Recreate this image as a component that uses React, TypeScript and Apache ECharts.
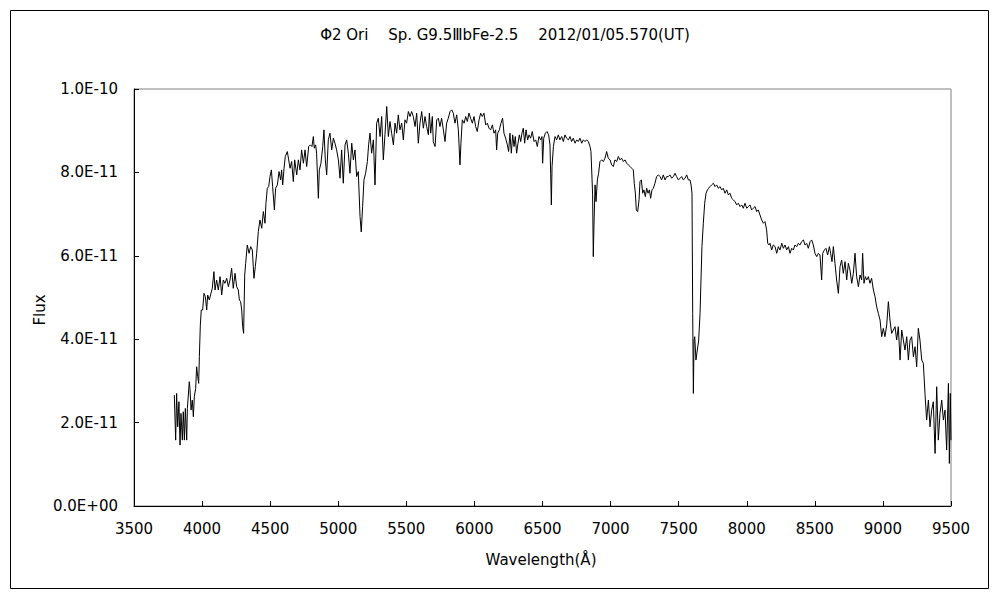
import React, { useEffect, useRef } from "react";
import * as echarts from "echarts";

// Spectrum of Φ2 Ori: [wavelength (Å), flux in units of 1e-11]
const blueSpectrum: [number, number][] = [
  [3796, 2.66], [3806, 1.58], [3813, 2.7], [3821, 1.9], [3830, 2.5], [3838, 1.46], [3845, 2.22], [3855, 1.58],
  [3862, 2.26], [3870, 1.58], [3877, 2.34], [3887, 1.58], [3892, 2.34], [3906, 2.98], [3911, 2.82], [3919, 2.3],
  [3928, 2.54], [3936, 2.14], [3943, 2.62], [3953, 2.82], [3960, 3.34], [3968, 3.1], [3975, 2.94], [3980, 3.58],
  [3987, 4.34], [3994, 4.7], [4004, 4.7], [4014, 5.1], [4024, 5.02], [4034, 4.7], [4041, 5.06], [4053, 4.94],
  [4065, 5.1], [4075, 5.22], [4087, 5.62], [4095, 5.18], [4107, 5.42], [4119, 5.18], [4132, 5.5], [4144, 5.06],
  [4156, 5.42], [4168, 5.34], [4181, 5.46], [4193, 5.26], [4205, 5.42], [4217, 5.7], [4229, 5.22], [4242, 5.58],
  [4254, 5.26], [4266, 5.18], [4274, 4.94], [4283, 4.9], [4291, 4.7], [4298, 4.3], [4305, 4.14], [4313, 5.54],
  [4320, 5.82], [4332, 6.26], [4345, 6.06], [4357, 6.22], [4369, 6.14], [4381, 5.46], [4391, 5.74], [4401, 6.06],
  [4413, 6.58], [4425, 6.86], [4438, 6.66], [4450, 7.06], [4462, 6.78], [4469, 7.26], [4479, 7.62], [4489, 7.66],
  [4499, 7.9], [4509, 8.06], [4518, 7.66], [4531, 7.1], [4540, 7.62], [4553, 7.7], [4565, 8.02], [4577, 7.82],
  [4584, 8.06], [4592, 7.7], [4602, 8.1], [4611, 8.38], [4626, 8.5], [4636, 8.3], [4646, 8.1], [4658, 8.26],
  [4670, 7.78], [4680, 8.3], [4695, 7.94], [4707, 8.3], [4719, 8.06], [4731, 8.54], [4744, 8.22], [4756, 8.54],
  [4768, 8.14], [4783, 8.62], [4795, 8.66], [4807, 8.62], [4817, 8.86], [4824, 8.58], [4834, 8.66], [4841, 8.46],
  [4854, 7.38], [4861, 8.06], [4873, 8.22], [4886, 8.62], [4895, 9.02], [4905, 8.3], [4915, 7.94], [4927, 8.78],
  [4939, 8.94], [4952, 8.54], [4964, 8.82], [4976, 8.7], [4988, 8.54], [5001, 8.3], [5013, 7.86], [5025, 8.54],
  [5037, 7.74], [5050, 8.66], [5062, 8.78], [5074, 8.46], [5086, 7.98], [5099, 8.7], [5111, 8.3], [5123, 8.54],
  [5135, 7.9], [5147, 8.02], [5160, 6.94], [5169, 6.57], [5179, 7.18], [5189, 7.82], [5201, 7.98], [5214, 8.26],
  [5223, 8.66], [5233, 8.94], [5245, 8.46], [5258, 8.78], [5270, 7.7], [5282, 9.18], [5294, 9.3], [5307, 8.86],
  [5319, 9.34], [5331, 8.3], [5343, 8.9], [5356, 9.58], [5368, 8.86], [5380, 9.22], [5392, 8.94], [5405, 8.66],
  [5417, 9.18], [5429, 8.94], [5441, 9.38], [5453, 9.02], [5466, 9.18], [5478, 8.78], [5490, 9.26], [5502, 9.18],
  [5515, 9.46], [5527, 9.34],
];

const greenSpectrum: [number, number][] = [
  [5539, 9.46], [5551, 9.34], [5564, 9.1], [5576, 9.42], [5588, 8.7], [5600, 9.18], [5613, 9.46], [5625, 9.06],
  [5637, 9.34], [5649, 9.1], [5662, 8.9], [5669, 9.42], [5679, 8.94], [5691, 9.34], [5698, 8.74], [5711, 8.62],
  [5723, 9.26], [5735, 9.3], [5747, 9.1], [5759, 9.3], [5772, 9.02], [5784, 8.74], [5796, 9.18], [5808, 9.3],
  [5821, 9.46], [5833, 9.5], [5845, 9.42], [5857, 9.18], [5870, 9.38], [5882, 9.02], [5894, 8.18], [5901, 8.7],
  [5911, 9.26], [5924, 9.18], [5936, 9.34], [5948, 9.22], [5960, 9.42], [5972, 9.3], [5985, 9.18], [5997, 9.34],
  [6009, 9.1], [6021, 8.98], [6034, 9.26], [6046, 9.42], [6058, 9.34], [6070, 9.42], [6083, 9.14], [6095, 9.18],
  [6107, 9.06], [6119, 9.02], [6132, 9.14], [6144, 8.94], [6156, 9.02], [6163, 8.54], [6171, 8.94], [6183, 9.02],
  [6195, 9.18], [6207, 9.3], [6217, 8.94], [6229, 8.82], [6242, 8.66], [6251, 8.5], [6261, 8.94], [6271, 8.46],
  [6281, 8.9], [6291, 8.62], [6300, 8.86], [6310, 8.46], [6320, 8.7], [6330, 8.9], [6340, 8.74], [6349, 8.94],
  [6359, 9.06], [6369, 8.7], [6379, 9.02], [6391, 8.78], [6401, 8.9], [6413, 8.82], [6425, 8.98], [6438, 8.74],
  [6450, 8.78], [6462, 8.62], [6474, 8.86], [6487, 8.78], [6496, 8.86], [6501, 8.22], [6509, 8.82], [6521, 8.94],
  [6533, 8.98], [6545, 8.9], [6555, 8.66], [6560, 7.98], [6565, 7.22], [6570, 8.14], [6580, 8.62], [6592, 8.86],
  [6604, 8.78], [6616, 8.9], [6628, 8.78], [6641, 8.86], [6653, 8.74], [6665, 8.9], [6677, 8.82], [6690, 8.78],
  [6702, 8.86], [6714, 8.74], [6726, 8.82], [6739, 8.7], [6751, 8.78], [6763, 8.74], [6775, 8.82], [6788, 8.7],
  [6800, 8.78], [6812, 8.74], [6824, 8.78], [6837, 8.74], [6849, 8.62], [6856, 8.5], [6864, 7.82], [6868, 7.46],
  [6873, 5.98], [6878, 6.74], [6886, 7.7], [6893, 7.3], [6903, 7.82], [6912, 7.98], [6922, 8.26], [6934, 8.3],
  [6947, 8.26], [6959, 8.34], [6971, 8.5], [6983, 8.34], [6996, 8.3], [7008, 8.18], [7020, 8.14], [7032, 8.3],
  [7045, 8.26], [7057, 8.38], [7069, 8.3], [7081, 8.34], [7094, 8.26], [7106, 8.3], [7118, 8.22], [7130, 8.18],
  [7143, 8.14], [7155, 8.1], [7167, 8.06], [7174, 7.74], [7182, 7.5], [7189, 7.1], [7199, 7.06], [7209, 7.34],
  [7216, 7.78], [7226, 7.82], [7236, 7.5], [7245, 7.58], [7255, 7.42], [7265, 7.62], [7275, 7.5], [7285, 7.58],
  [7294, 7.38], [7304, 7.58], [7314, 7.62], [7326, 7.74], [7338, 7.9], [7351, 7.94], [7363, 7.9], [7375, 7.82],
  [7387, 7.94], [7400, 7.82], [7412, 7.9], [7424, 7.9], [7436, 7.94], [7449, 7.86], [7461, 7.9], [7473, 7.98],
  [7485, 7.9], [7498, 7.82],
];

const redSpectrum: [number, number][] = [
  [7522, 7.9], [7534, 7.82], [7547, 7.86], [7559, 7.94], [7571, 7.82], [7583, 7.82], [7591, 7.7], [7598, 7.5],
  [7603, 4.62], [7608, 2.7], [7613, 3.98], [7618, 4.06], [7627, 3.5], [7637, 3.74], [7647, 3.98], [7657, 4.62],
  [7664, 5.42], [7671, 6.22], [7681, 6.78], [7691, 7.26], [7701, 7.5], [7711, 7.58], [7720, 7.62], [7730, 7.66],
  [7742, 7.7], [7755, 7.74], [7767, 7.66], [7779, 7.7], [7791, 7.62], [7804, 7.66], [7816, 7.58], [7828, 7.62],
  [7840, 7.5], [7853, 7.58], [7865, 7.46], [7877, 7.5], [7889, 7.38], [7902, 7.34], [7914, 7.3], [7926, 7.22],
  [7938, 7.26], [7951, 7.18], [7963, 7.22], [7975, 7.14], [7987, 7.26], [8000, 7.14], [8012, 7.18], [8024, 7.22],
  [8036, 7.1], [8048, 7.14], [8061, 7.18], [8073, 7.06], [8085, 7.1], [8097, 6.98], [8110, 6.86], [8122, 6.78],
  [8134, 6.82], [8146, 6.62], [8154, 6.3], [8163, 6.26], [8171, 6.3], [8183, 6.14], [8195, 6.26], [8208, 6.22],
  [8220, 6.06], [8232, 6.22], [8244, 6.14], [8257, 6.3], [8269, 6.18], [8281, 6.26], [8293, 6.14], [8306, 6.22],
  [8318, 6.06], [8330, 6.18], [8342, 6.14], [8354, 6.26], [8367, 6.22], [8379, 6.3], [8391, 6.26], [8403, 6.34],
  [8416, 6.38], [8428, 6.26], [8440, 6.3], [8452, 6.18], [8465, 6.34], [8477, 6.38], [8489, 6.26], [8501, 6.06],
  [8514, 5.98], [8526, 6.06], [8538, 6.02], [8550, 5.42], [8558, 6.06], [8570, 6.14], [8582, 6.18], [8594, 6.02],
  [8607, 6.22], [8616, 6.06], [8626, 5.86], [8636, 6.22], [8648, 5.82], [8660, 5.42], [8673, 5.1], [8685, 5.74],
  [8697, 5.9], [8709, 5.58], [8722, 5.86], [8734, 5.42], [8746, 5.82], [8758, 5.66], [8771, 5.34], [8783, 5.58],
  [8795, 6.06], [8807, 5.5], [8820, 5.26], [8832, 5.54], [8844, 5.42], [8851, 6.06], [8861, 5.34], [8871, 5.5],
  [8881, 5.42], [8893, 5.5], [8905, 5.34], [8917, 5.46], [8930, 5.18], [8942, 5.02], [8954, 4.78], [8966, 4.62],
  [8979, 4.46], [8991, 4.06], [9003, 4.26], [9015, 4.06], [9028, 4.34], [9040, 4.9], [9052, 4.46], [9064, 4.14],
  [9077, 4.22], [9089, 4.3], [9101, 3.98], [9113, 4.3], [9126, 3.5], [9138, 4.22], [9150, 3.98], [9162, 3.74],
  [9175, 4.06], [9187, 3.5], [9199, 3.98], [9211, 4.06], [9224, 3.58], [9236, 3.82], [9248, 3.34], [9260, 4.26],
  [9272, 3.98], [9285, 3.5], [9297, 3.42], [9309, 2.7], [9321, 2.06], [9334, 2.54], [9346, 1.9], [9358, 2.3],
  [9370, 2.5], [9383, 1.26], [9395, 2.86], [9407, 1.58], [9419, 2.22], [9432, 2.54], [9444, 2.06], [9456, 2.3],
  [9468, 1.34], [9481, 2.94], [9488, 1.02], [9495, 2.7], [9500, 1.58],
];

const FLUX_UNIT = 1e-11;
const yTickLabels = ["0.0E+00", "2.0E-11", "4.0E-11", "6.0E-11", "8.0E-11", "1.0E-10"];
const titleText = "Φ2 Ori　 Sp. G9.5ⅢbFe-2.5　 2012/01/05.570(UT)";
const xAxisTitle = "Wavelength(Å)";
const yAxisTitle = "Flux";

const FONT = "'DejaVu Sans', 'Noto Sans CJK JP', sans-serif";

export default function App() {
  const ref = useRef<HTMLDivElement>(null);

  useEffect(() => {
    if (!ref.current) return;
    const chart = echarts.init(ref.current, undefined, { renderer: "svg" });
    const data = [...blueSpectrum, ...greenSpectrum, ...redSpectrum].map(
      ([w, f]) => [w, f * FLUX_UNIT]
    );
    chart.setOption({
      animation: false,
      backgroundColor: "#ffffff",
      textStyle: { fontFamily: FONT },
      grid: {
        left: 134,
        top: 89,
        right: 49,
        bottom: 94,
        show: true,
        borderColor: "#808080",
        borderWidth: 1,
        backgroundColor: "transparent",
      },
      xAxis: {
        type: "value",
        min: 3500,
        max: 9500,
        interval: 500,
        axisLine: { show: true, onZero: false, lineStyle: { color: "#000", width: 1 } },
        axisTick: { show: true, inside: true, length: 5, lineStyle: { color: "#000" } },
        axisLabel: {
          color: "#000",
          fontSize: 15,
          margin: 15,
          fontFamily: FONT,
          formatter: (v: number) => String(v),
        },
        splitLine: { show: false },
      },
      yAxis: {
        type: "value",
        min: 0,
        max: 1e-10,
        interval: 2e-11,
        axisLine: { show: true, onZero: false, lineStyle: { color: "#000", width: 1 } },
        axisTick: { show: true, inside: true, length: 5, lineStyle: { color: "#000" } },
        axisLabel: {
          color: "#000",
          fontSize: 15,
          margin: 16,
          fontFamily: FONT,
          formatter: (v: number) => yTickLabels[Math.round(v / (2 * FLUX_UNIT))] ?? "",
        },
        splitLine: { show: false },
      },
      graphic: [
        {
          type: "rect",
          shape: { x: 10.5, y: 10.5, width: 978, height: 578 },
          style: { fill: "none", stroke: "#000", lineWidth: 1 },
          silent: true,
        },
        {
          type: "text",
          x: 505,
          y: 35,
          style: {
            text: titleText,
            fill: "#000",
            font: `15px ${FONT}`,
            align: "center",
            verticalAlign: "middle",
          },
        },
        {
          type: "text",
          x: 541,
          y: 560,
          style: {
            text: xAxisTitle,
            fill: "#000",
            font: `15px ${FONT}`,
            align: "center",
            verticalAlign: "middle",
          },
        },
        {
          type: "text",
          x: 40,
          y: 310,
          rotation: Math.PI / 2,
          style: {
            text: yAxisTitle,
            fill: "#000",
            font: `15px ${FONT}`,
            align: "center",
            verticalAlign: "middle",
          },
        },
      ],
      series: [
        {
          type: "line",
          data,
          showSymbol: false,
          symbol: "none",
          lineStyle: { color: "#000", width: 1 },
          emphasis: { disabled: true },
        },
      ],
    });
    return () => chart.dispose();
  }, []);

  return (
    <div
      ref={ref}
      style={{ position: "absolute", left: 0, top: 0, width: 1000, height: 600, background: "#fff" }}
    />
  );
}
